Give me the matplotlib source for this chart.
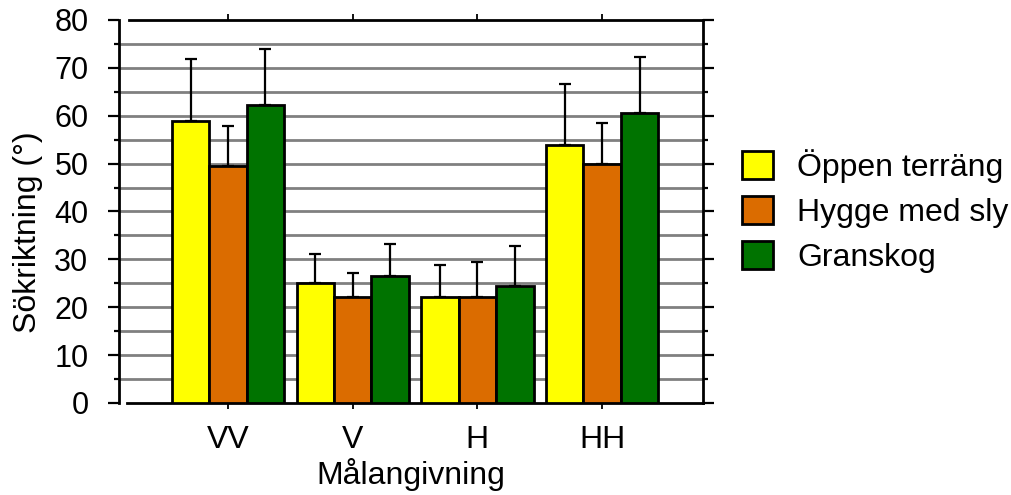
import matplotlib
matplotlib.use("Agg")
import matplotlib.pyplot as plt
import numpy as np
from matplotlib.ticker import MultipleLocator

plt.rcParams['font.family'] = ['Liberation Sans', 'DejaVu Sans']

categories = ["VV", "V", "H", "HH"]
series_names = ["Öppen terräng", "Hygge med sly", "Granskog"]
oppen = [58.9, 25.0, 22.1, 53.9]
hygge = [49.5, 22.1, 22.1, 49.9]
gran = [62.3, 26.6, 24.4, 60.5]
oppen_err = [12.9, 6.1, 6.7, 12.8]
hygge_err = [8.3, 5.1, 7.3, 8.5]
gran_err = [11.6, 6.7, 8.4, 11.8]
colors = ["#FFFF00", "#DB6C00", "#007300"]
yticks = [0, 10, 20, 30, 40, 50, 60, 70, 80]

fig = plt.figure(figsize=(10.11, 4.95), dpi=100)
ax = fig.add_axes([119/1011, 1-403/495, (703-119)/1011, (403-20)/495])

x = np.arange(len(categories))
w = 0.3
values = [oppen, hygge, gran]
errs = [oppen_err, hygge_err, gran_err]
handles = []
for i, (vals, err, col, name) in enumerate(zip(values, errs, colors, series_names)):
    pos = x + (i - 1) * w
    b = ax.bar(pos, vals, w, color=col, edgecolor='black', linewidth=2, label=name, zorder=3)
    ax.errorbar(pos, vals, yerr=[np.zeros(len(vals)), err], fmt='none', ecolor='black',
                elinewidth=1.6, capsize=4.5, capthick=1.6, zorder=2)
    handles.append(b)

ax.set_xlim(-0.874, 3.809)
ax.set_ylim(0, 80)
ax.set_yticks(yticks)
ax.yaxis.set_minor_locator(MultipleLocator(5))
ax.set_xticks(x)
ax.set_xticklabels(categories, fontsize=23)
ax.tick_params(axis='y', which='major', labelsize=22, length=8, width=1.6, direction='out',
               right=True, pad=14)
ax.tick_params(axis='y', which='minor', length=3.5, width=1.6, direction='out', right=True)
ax.tick_params(axis='x', which='major', length=4.5, width=1.3, direction='out', top=True, pad=11)

for yv in np.arange(5, 80, 5):
    ax.axhline(yv, color='#808080', linewidth=2, zorder=1)

for s in ax.spines.values():
    s.set_linewidth(2)
ax.spines['bottom'].set_bounds(-0.81, 3.809)
ax.spines['top'].set_bounds(-0.79, 3.809)

ax.set_ylabel("Sökriktning (°)", fontsize=23)
ax.yaxis.set_label_coords(-0.13, 0.447)
ax.set_xlabel("Målangivning", fontsize=23)
ax.xaxis.set_label_coords(0.5, -0.143)

ax.legend(handles=handles, loc='center left', bbox_to_anchor=(742/1011, 1-211/495),
          bbox_transform=fig.transFigure, frameon=False, fontsize=23,
          handlelength=0.97, handleheight=0.97, handletextpad=0.75, labelspacing=0.4,
          borderpad=0, borderaxespad=0)

fig.savefig("out.png", dpi=100)
